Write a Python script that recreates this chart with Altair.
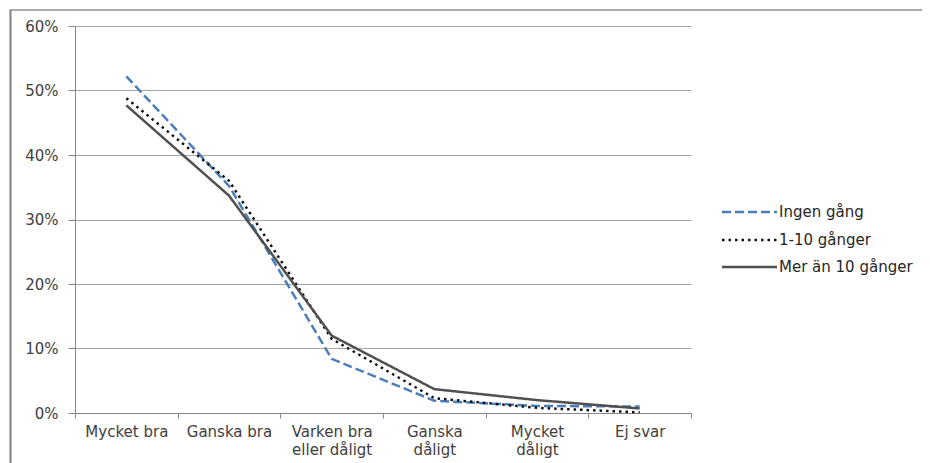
import altair as alt
import pandas as pd

categories = ["Mycket bra", "Ganska bra", "Varken bra eller dåligt",
              "Ganska dåligt", "Mycket dåligt", "Ej svar"]
label_lines = {"Varken bra eller dåligt": ["Varken bra", "eller dåligt"],
               "Ganska dåligt": ["Ganska", "dåligt"],
               "Mycket dåligt": ["Mycket", "dåligt"]}
series = ["Ingen gång", "1-10 gånger", "Mer än 10 gånger"]
ingen = [52.2, 35.2, 8.4, 1.9, 1.1, 1.0]
en_tio = [48.8, 36.0, 11.5, 2.3, 0.8, 0.1]
mer = [47.7, 33.7, 12.0, 3.7, 2.0, 0.7]
y_ticks = [0, 0.1, 0.2, 0.3, 0.4, 0.5, 0.6]

colors = ["#4a7ebb", "#111111", "#505050"]
dashes = [[9, 4], [2.5, 4], [1, 0]]

rows = []
for s, vals in zip(series, [ingen, en_tio, mer]):
    for c, v in zip(categories, vals):
        rows.append({"cat": c, "series": s, "val": v / 100})
df = pd.DataFrame(rows)

expr_parts = []
for k, v in label_lines.items():
    expr_parts.append(f"datum.label == '{k}' ? ['{v[0]}', '{v[1]}'] : ")
label_expr = "".join(expr_parts) + "datum.label"

FONT = "DejaVu Sans"
FS = 15
W, H = 616, 387

lines = alt.Chart(df).mark_line(strokeWidth=2.5).encode(
    x=alt.X("cat:N", sort=categories, bandPosition=0.5,
            scale=alt.Scale(type="band", paddingInner=0, paddingOuter=0),
            axis=alt.Axis(title=None, labelAngle=0, tickBand="extent",
                          labelExpr=label_expr, labelFont=FONT, labelFontSize=FS,
                          labelColor="#404040", labelLineHeight=18,
                          labelPadding=6, tickSize=5, tickColor="#868686",
                          domainColor="#868686", grid=False, labelBaseline="top")),
    y=alt.Y("val:Q", scale=alt.Scale(domain=[0, 0.6], nice=False),
            axis=alt.Axis(title=None, format=".0%", values=y_ticks,
                          labelFont=FONT, labelFontSize=FS, labelColor="#404040",
                          tickSize=7, tickColor="#868686", labelPadding=10,
                          domainColor="#868686", gridColor="#a6a6a6",
                          gridWidth=1)),
    color=alt.Color("series:N", sort=series,
                    scale=alt.Scale(domain=series, range=colors), legend=None),
    strokeDash=alt.StrokeDash("series:N", sort=series,
                              scale=alt.Scale(domain=series, range=dashes),
                              legend=None),
    detail="series:N",
)

# custom legend
leg_y = [186, 214, 241]
leg_layers = []
for s, c, d, yy in zip(series, colors, dashes, leg_y):
    leg_layers.append(
        alt.Chart(pd.DataFrame({"series": [s]})).mark_rule(
            strokeWidth=2.5, color=c, strokeDash=d).encode(
            x=alt.value(647), x2=alt.value(702), y=alt.value(yy)))
    leg_layers.append(
        alt.Chart(pd.DataFrame({"series": [s]})).mark_text(
            align="left", baseline="middle", font=FONT, fontSize=FS,
            color="#262626").encode(
            x=alt.value(704), y=alt.value(yy), text="series:N"))

# outer frame
frame_v = alt.Chart(pd.DataFrame({"a": [0]})).mark_rule(
    color="#808080", strokeWidth=2).encode(
    x=alt.value(-64.5), y=alt.value(-16), y2=alt.value(440))
frame_h = alt.Chart(pd.DataFrame({"a": [0]})).mark_rule(
    color="#8c8c8c", strokeWidth=1.5).encode(
    x=alt.value(-65.5), x2=alt.value(860), y=alt.value(-16))

chart = alt.layer(lines, *leg_layers, frame_v, frame_h).properties(
    width=W, height=H,
    autosize=alt.AutoSizeParams(type="none"),
    padding={"left": 67, "top": 18, "right": 231, "bottom": 50},
    background="white",
).configure_view(stroke=None)

chart.save("out.html", embed_options={"renderer": "svg", "actions": False})
